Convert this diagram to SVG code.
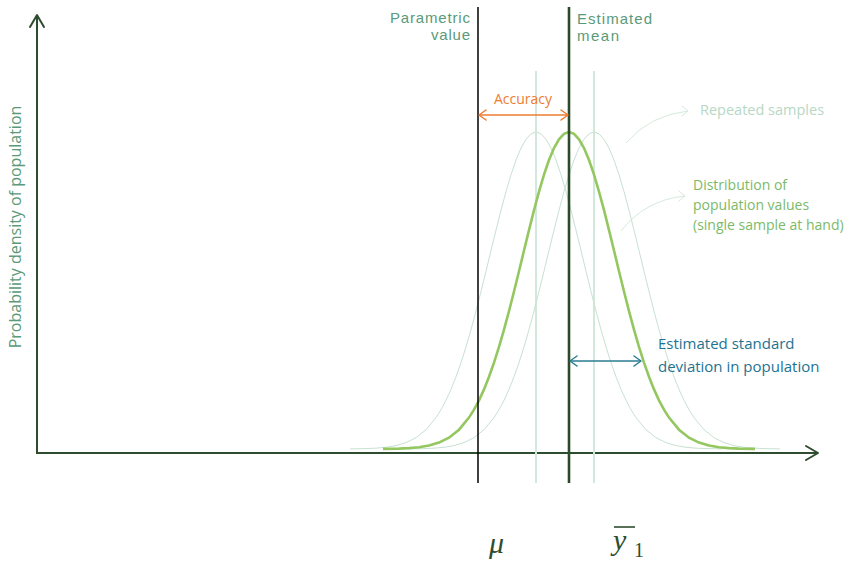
<svg xmlns="http://www.w3.org/2000/svg" width="855" height="561" viewBox="0 0 855 561">
<style>
text{font-family:"Open Sans","Noto Sans",sans-serif}
.lbl{fill:#5a9a78;font-size:16px}
.top{font-family:"Liberation Sans","Arial",sans-serif;font-size:15px;fill:#5a9a78}
.axis{stroke:#2e4d2e;stroke-width:2;fill:none}
.chev{fill:none;stroke-linecap:round;stroke-linejoin:round}
.light{fill:none;stroke:#c8e1d2;stroke-width:1}
.vlight{stroke:#d3e8dc;stroke-width:2}
.main{fill:none;stroke:#94c760;stroke-width:2.6}
.math{font-family:"Liberation Serif","DejaVu Serif",serif;font-style:italic;fill:#2e4d2e}
</style>
<defs>
<path id="g" d="M-186,448.9 L-170,448.6 -160,448.15 -150,447.3 -140,445.6 -130,442.6 -120,437.7 -110,429.7 -100,417.6 -95,409.7 -90,400.3 -85,389.4 -80,376.8 -75,362.6 -70,346.9 -65,329.6 -60,311.1 -55,291.5 -50,271.2 -45,250.5 -40,230.1 -35,210.2 -30,191.6 -25,174.7 -20,160 -15,148.1 -10,139.3 -5,133.8 0,132 5,133.8 10,139.3 15,148.1 20,160 25,174.7 30,191.6 35,210.2 40,230.1 45,250.5 50,271.2 55,291.5 60,311.1 65,329.6 70,346.9 75,362.6 80,376.8 85,389.4 90,400.3 95,409.7 100,417.6 110,429.7 120,437.7 130,442.6 140,445.6 150,447.3 160,448.15 170,448.6 186,448.9"/>
</defs>
<rect width="855" height="561" fill="#fff"/>

<g id="axes">
<path class="axis" d="M37,15 V453 H818"/>
<path class="axis chev" d="M30,27 L37,15 L44,27"/>
<path class="axis chev" d="M806,446 L818,453 L806,460"/>
<text class="lbl" transform="translate(21,227) rotate(-90)" text-anchor="middle" font-size="15.5">Probability density of population</text>
</g>

<g id="sample-lines">
<line class="vlight" x1="536" y1="71" x2="536" y2="483"/>
<line class="vlight" x1="594" y1="71" x2="594" y2="483"/>
</g>

<g id="repeated-samples">
<use href="#g" class="light" transform="translate(536,0)"/>
<use href="#g" class="light" transform="translate(594,0)"/>
</g>

<g id="population-distribution">
<use href="#g" class="main" transform="translate(569,0)"/>
</g>

<g id="parametric-value">
<line x1="478" y1="7" x2="478" y2="483" stroke="#000" stroke-width="1.5"/>
<text class="top" x="390" y="23" textLength="80">Parametric</text>
<text class="top" x="431" y="40" textLength="39">value</text>
</g>

<g id="estimated-mean">
<line x1="569" y1="7" x2="569" y2="483" stroke="#2b4a2b" stroke-width="2.6"/>
<text class="top" x="577" y="24" textLength="75">Estimated</text>
<text class="top" x="577" y="41" textLength="42">mean</text>
</g>

<g id="accuracy">
<text x="523" y="104" text-anchor="middle" font-size="14" fill="#ed7d31">Accuracy</text>
</g>

<g id="repeated-label">
<text x="700" y="115" font-size="14.5" fill="#b7d8c6">Repeated samples</text>
</g>

<g id="distribution-label">
<text font-size="14" fill="#7bba69"><tspan x="693" y="190">Distribution of</tspan><tspan x="693" y="210">population values</tspan><tspan x="693" y="230">(single sample at hand)</tspan></text>
</g>

<g id="sd-label">
<text font-size="15" fill="#1e7391"><tspan x="658" y="349">Estimated standard</tspan><tspan x="658" y="372">deviation in population</tspan></text>
</g>

<g id="symbols">
<text class="math" x="489" y="553" font-size="30">μ</text>
<text class="math" x="613" y="550" font-size="30">y</text>
<line x1="614" y1="527" x2="635" y2="527" stroke="#2e4d2e" stroke-width="1.6"/>
<text x="634" y="557" font-size="20" fill="#2e4d2e" style="font-family:'Liberation Serif','DejaVu Serif',serif">1</text>
</g>

<g id="connectors">
<path d="M479,115 H568" stroke="#ed7d31" stroke-width="1.5" fill="none"/>
<path class="chev" d="M486,110 L479,115 L486,120 M561,110 L568,115 L561,120" stroke="#ed7d31" stroke-width="1.5"/>
<path d="M570,361 H641" stroke="#2a7d93" stroke-width="1.5" fill="none"/>
<path class="chev" d="M577,356 L570,361 L577,366 M634,356 L641,361 L634,366" stroke="#2a7d93" stroke-width="1.5"/>
<path d="M626,143 Q650,115 688,111" stroke="#d7e9dc" stroke-width="1" fill="none"/>
<path class="chev" d="M682,106 L688,111 L682,116" stroke="#d7e9dc" stroke-width="1"/>
<path d="M621,231 Q645,200 685,196" stroke="#d7e9dc" stroke-width="1" fill="none"/>
<path class="chev" d="M679,191 L685,196 L679,201" stroke="#d7e9dc" stroke-width="1"/>
</g>
</svg>
